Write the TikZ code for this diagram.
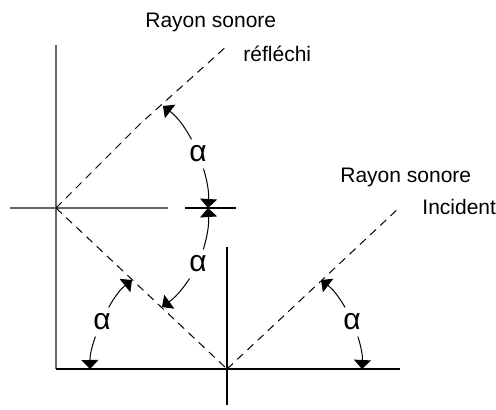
\documentclass[tikz,border=0pt]{standalone}
\usepackage{fontspec}
\setmainfont{Liberation Sans}
\usetikzlibrary{arrows.meta, positioning}

\begin{document}
\begin{tikzpicture}[
    x=0.5pt, y=-0.5pt,
    every node/.style={font=\fontsize{10.5}{12}\selectfont},
    wall/.style={draw=black!60, line width=0.6pt},
    ground/.style={draw=black, line width=0.6pt},
    ray/.style={draw=black, line width=0.5pt, dash pattern=on 4pt off 3pt},
    anglearrow/.style={-{Triangle[length=4.5pt, width=8.5pt]}, line width=0.5pt},
    anglbl/.style={font=\fontsize{15}{18}\selectfont, inner sep=3pt},
    txt/.style={anchor=west, inner sep=0pt}
]
\useasboundingbox (0,0) rectangle (496,410);

% Walls and floor
\coordinate (wallTop) at (56,45);
\coordinate (wallFoot) at (56,369);
\coordinate (wallLeft) at (10,208);
\coordinate (wallRight) at (168,208);
\coordinate (refl) at (56,208);
\coordinate (impact) at (227,369);
\coordinate (floorEnd) at (400,369);
\coordinate (normTop) at (227,247);
\coordinate (normBot) at (227,405);
\coordinate (tickL) at (185,208);
\coordinate (tickR) at (236,208);
\coordinate (mark) at (208,208);

\draw[wall] (wallTop) -- (wallFoot);
\draw[wall] (wallLeft) -- (wallRight);
\draw[ground] (wallFoot) -- (floorEnd);
\draw[ground] (normTop) -- (normBot);
\draw[ground] (tickL) -- (tickR);

% Sound rays
\coordinate (reflBend) at (140,124);
\coordinate (reflEnd) at (228,45);
\coordinate (incEnd) at (400,207);

\draw[ray] (refl) -- (reflBend) -- (reflEnd);
\draw[ray] (refl) -- (impact);
\draw[ray] (impact) -- (incEnd);

% Angles
\coordinate (tipR) at (163,106);
\coordinate (tipM) at (162,307);
\coordinate (tipL) at (132,280);
\coordinate (tipI) at (321,280);
\coordinate (footL) at (90,369);
\coordinate (footR) at (362,369);

\node[anglbl] (a1) at (198,154) {α};
\node[anglbl] (a2) at (198,264) {α};
\node[anglbl] (a3) at (102,322) {α};
\node[anglbl] (a4) at (352,322) {α};

\draw[anglearrow] (a1) to[bend right=12] (tipR);
\draw[anglearrow] (a1) to[bend left=10] (mark);
\draw[anglearrow] (a2) to[bend right=10] (mark);
\draw[anglearrow] (a2) to[bend left=10] (tipM);
\draw[anglearrow] (a3) to[bend left=11] (tipL);
\draw[anglearrow] (a3) to[bend right=10] (footL);
\draw[anglearrow] (a4) to[bend right=11] (tipI);
\draw[anglearrow] (a4) to[bend left=10] (footR);

% Labels
\node[txt] (rayRefl) at (145,22) {Rayon sonore};
\node[txt] (rayReflB) at (243,54) {réfléchi};
\node[txt] (rayInc) at (340,177) {Rayon sonore};
\node[txt] (rayIncB) at (422,207) {Incident};

\end{tikzpicture}
\end{document}
